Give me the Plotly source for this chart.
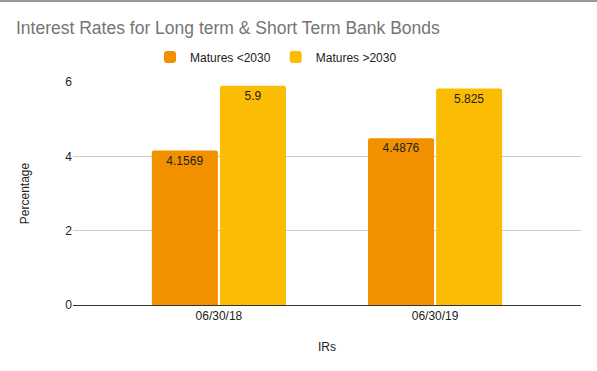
import plotly.graph_objects as go

categories = ["06/30/18", "06/30/19"]
series_names = ["Matures <2030", "Matures >2030"]
matures_lt_2030 = [4.1569, 4.4876]
matures_gt_2030 = [5.9, 5.825]
colors = ["#f29100", "#fbbc04"]
y_ticks = [0, 2, 4, 6]

fig = go.Figure()
for name, vals, col in zip(series_names, [matures_lt_2030, matures_gt_2030], colors):
    fig.add_trace(go.Bar(
        x=categories, y=vals, name=name, marker=dict(color=col, line=dict(width=0)),
        text=[str(v) for v in vals], textposition="inside", insidetextanchor="end",
        textfont=dict(color="#222222", size=12, family="Arial"), textangle=0,
        cliponaxis=False,
    ))

fig.update_layout(
    width=597, height=371,
    margin=dict(l=73, r=16, t=82, b=66, autoexpand=False),
    paper_bgcolor="white", plot_bgcolor="white",
    font=dict(family="Arial", size=12, color="#222222"),
    title=dict(text="Interest Rates for Long term & Short Term Bank Bonds",
               x=16/597, xanchor="left", y=1-28/371, yanchor="middle", pad=dict(l=0, r=0, t=0, b=0),
               font=dict(size=17.5, color="#757575", family="Arial")),
    barmode="group", bargap=0.37, bargroupgap=0.03, barcornerradius=2,
    uniformtext=dict(mode="show", minsize=12),
    legend=dict(orientation="h", x=(150-73)/508, xanchor="left", y=1+(82-57)/223, yanchor="middle",
                font=dict(size=12, color="#222222"), itemwidth=30, traceorder="normal"),
    xaxis=dict(range=[-0.675, 1.675], showgrid=False, ticks="", showline=True,
               linecolor="#333333", linewidth=1, automargin=False,
               title=dict(text="IRs", standoff=20, font=dict(size=12, color="#222222")),
               tickfont=dict(size=12, color="#222222")),
    yaxis=dict(range=[0, 6], tickvals=y_ticks, showgrid=True, gridcolor="#cccccc", gridwidth=1,
               zeroline=False, ticks="", showline=False, automargin=False,
               title=dict(text="Percentage", standoff=33, font=dict(size=12, color="#222222")),
               tickfont=dict(size=12, color="#222222")),
    shapes=[dict(type="line", xref="paper", yref="paper", x0=-73/508, x1=1+16/508,
                 y0=1+81/223, y1=1+81/223, line=dict(color="#999999", width=2))],
)

fig.write_html("out.html", config={"displayModeBar": False},
               post_script="document.body.style.margin='0';document.body.style.overflow='hidden';")
